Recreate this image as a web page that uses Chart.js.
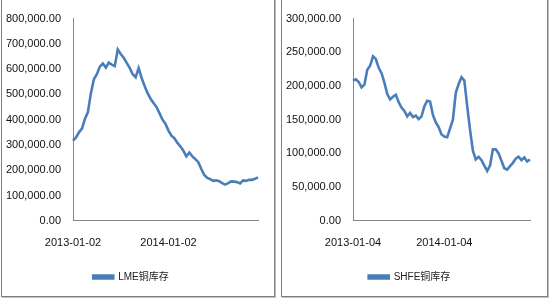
<!DOCTYPE html>
<html>
<head>
<meta charset="utf-8">
<script src="https://cdn.jsdelivr.net/npm/chart.js@4"></script>
<style>
  html, body { margin: 0; padding: 0; background: #fff; }
  body { width: 550px; height: 300px; position: relative; overflow: hidden; }
  .panel { position: absolute; border: 1px solid #808080; box-shadow: 1px 1px 0 #c0c0c0; background: #fff; }
  .box { position: absolute; }
</style>
</head>
<body>
<div class="panel" style="left:1px; top:-6px; width:272px; height:301px;"></div>
<div class="panel" style="left:281px; top:-6px; width:265px; height:301px;"></div>
<div class="box" style="left:0; top:0; width:274px; height:295px;"><canvas id="lmeChart"></canvas></div>
<div class="box" style="left:282px; top:0; width:264px; height:295px;"><canvas id="shfeChart"></canvas></div>
<script>
// LME copper stocks (tonnes), roughly weekly from 2013-01-02
const lmeValues = [
  317000, 330000, 350000, 365000, 403000, 430000, 505000, 560000, 580000, 610000,
  622000, 606000, 626000, 618000, 612000, 678000, 660000, 645000, 625000, 605000,
  580000, 568000, 604000, 565000, 533000, 505000, 483000, 466000, 450000, 425000,
  400000, 383000, 357000, 337000, 326000, 308000, 294000, 277000, 255000, 270000,
  255000, 244000, 232000, 205000, 181000, 170000, 165000, 158000, 160000, 157000,
  149000, 143000, 149000, 156000, 155000, 153000, 148000, 160000, 158000, 162000,
  162000, 166000, 172000
];
const lmeTicks = ['2013-01-02', '2014-01-02'];

// SHFE copper stocks (tonnes), roughly weekly from 2013-01-04
const shfeValues = [
  208000, 210000, 206000, 198000, 202000, 224000, 230000, 244000, 240000, 227000,
  219000, 205000, 188000, 180000, 184000, 187000, 176000, 168000, 163000, 155000,
  160000, 154000, 156000, 151000, 155000, 170000, 178000, 177000, 157000, 146000,
  139000, 128000, 125000, 124000, 137000, 150000, 190000, 203000, 213000, 208000,
  170000, 135000, 104000, 91000, 95000, 90000, 82000, 74000, 82000, 106000,
  106000, 100000, 89000, 78000, 76000, 81000, 86000, 92000, 95000, 90000,
  94000, 88000, 91000
];
const shfeTicks = ['2013-01-04', '2014-01-04'];

const pointsPerYear = 32;
const lineColor = '#4a7ebb';
const axisFont = { family: "'Liberation Sans', sans-serif", size: 11 };
const legendFont = { family: "'Liberation Sans', 'Noto Sans CJK SC', sans-serif", size: 10 };

function makeChart(id, name, values, ticks, yMax, yStep, axisWidth, padding) {
  return new Chart(document.getElementById(id), {
    type: 'line',
    data: {
      labels: values.map((_, i) => i),
      datasets: [{
        label: name,
        data: values,
        borderColor: lineColor,
        backgroundColor: lineColor,
        borderWidth: 2.6,
        pointRadius: 0,
        tension: 0
      }]
    },
    options: {
      responsive: true,
      maintainAspectRatio: false,
      animation: false,
      layout: { padding: padding },
      plugins: {
        legend: {
          position: 'bottom',
          labels: { boxWidth: 20, boxHeight: 3, padding: 6, color: '#222', font: legendFont }
        },
        tooltip: { enabled: false }
      },
      scales: {
        x: {
          grid: { display: false, drawTicks: false },
          border: { color: '#868686', width: 1 },
          ticks: {
            autoSkip: false,
            maxRotation: 0,
            padding: 16,
            color: '#111',
            font: axisFont,
            callback: (v, i) => (i % pointsPerYear === 0 && ticks[i / pointsPerYear]) ? ticks[i / pointsPerYear] : ''
          }
        },
        y: {
          min: 0,
          max: yMax,
          afterFit: scale => { scale.width = axisWidth; },
          grid: { display: false, drawTicks: false },
          border: { color: '#868686', width: 1 },
          ticks: {
            stepSize: yStep,
            padding: 12,
            color: '#111',
            font: axisFont,
            callback: v => v.toLocaleString('en-US', { minimumFractionDigits: 2, maximumFractionDigits: 2 })
          }
        }
      }
    }
  });
}

document.addEventListener('DOMContentLoaded', () => {
  makeChart('lmeChart', 'LME铜库存', lmeValues, lmeTicks, 800000, 100000, 73,
    { top: 18, right: 12, left: 0, bottom: 3 });
  makeChart('shfeChart', 'SHFE铜库存', shfeValues, shfeTicks, 300000, 50000, 71,
    { top: 18, right: 9, left: 0, bottom: 3 });
});
</script>
</body>
</html>
